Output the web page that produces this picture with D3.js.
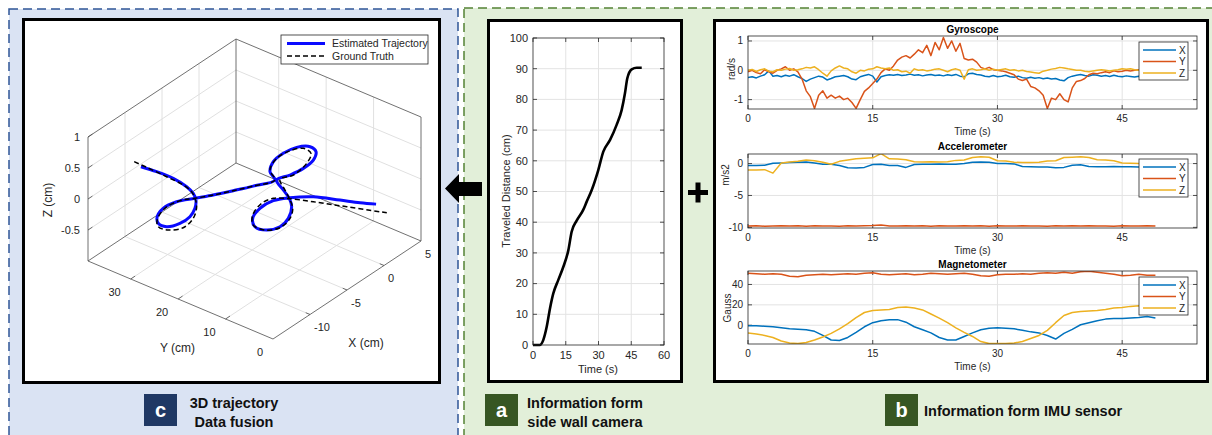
<!DOCTYPE html>
<html>
<head>
<meta charset="utf-8">
<script src="https://cdn.jsdelivr.net/npm/d3@7"></script>
<style>
  body { margin: 0; background: #fff; }
  svg { display: block; }
  text { font-family: "Liberation Sans", Arial, sans-serif; }
  text:not([fill]) { fill: #262626; }
</style>
</head>
<body>
<div id="chart"></div>
<script>
// ---------- data ----------
// 3D trajectory (cm)
const estX = [-10.0,-9.13,-8.21,-7.47,-7.11,-6.96,-7.01,-7.29,-7.84,-8.58,-9.04,-9.10,-8.77,-8.03,-7.01,-6.00,-4.90,-3.79,-2.59,-2.87,-2.68,-2.13,-1.39,-0.65,-0.32,-0.47,-1.02,-1.76,-2.50,-2.13,-1.80,-1.67,-1.85,-2.31,-3.05,-3.70,-3.82,-3.42,-2.68,-1.76,-0.47,1.00,2.11,3.00];
const estY = [35.65,33.69,31.62,29.95,29.13,28.79,28.92,29.54,30.79,32.45,33.49,33.62,32.87,31.20,28.92,26.63,24.14,21.65,18.94,19.56,19.15,17.91,16.23,14.58,13.83,14.16,15.41,17.07,18.73,17.91,17.16,16.86,17.28,18.32,19.98,21.43,21.72,20.81,19.15,17.07,14.16,10.84,8.34,6.35];
const estZ = [0.234,0.148,0.035,-0.105,-0.214,-0.323,-0.456,-0.590,-0.694,-0.744,-0.685,-0.579,-0.445,-0.344,-0.295,-0.248,-0.185,-0.118,-0.028,0.108,0.268,0.400,0.492,0.497,0.414,0.281,0.150,0.047,-0.029,-0.192,-0.329,-0.465,-0.651,-0.784,-0.832,-0.774,-0.639,-0.479,-0.361,-0.319,-0.311,-0.374,-0.424,-0.452];
const gtX = [-10.37,-9.68,-8.58,-7.66,-7.20,-7.01,-6.92,-7.11,-7.66,-8.49,-9.04,-9.10,-8.67,-7.84,-7.01,-6.00,-4.90,-3.79,-2.59,-2.87,-2.50,-1.76,-1.02,-0.60,-0.84,-1.58,-2.31,-2.04,-1.80,-1.61,-1.76,-2.31,-3.14,-3.79,-3.82,-3.33,-2.68,-1.94,-0.47,1.38,3.59];
const gtY = [36.49,34.94,32.45,30.38,29.33,28.92,28.70,29.13,30.38,32.25,33.49,33.62,32.66,30.79,28.92,26.63,24.14,21.65,18.94,19.56,18.73,17.07,15.41,14.45,14.99,16.66,18.32,17.69,17.16,16.73,17.07,18.32,20.19,21.65,21.72,20.60,19.15,17.48,14.16,10.00,5.01];
const gtZ = [0.317,0.222,0.063,-0.076,-0.187,-0.295,-0.431,-0.617,-0.765,-0.797,-0.740,-0.632,-0.446,-0.328,-0.295,-0.248,-0.185,-0.118,-0.028,0.135,0.321,0.439,0.473,0.390,0.230,0.046,-0.019,-0.193,-0.329,-0.491,-0.652,-0.799,-0.831,-0.747,-0.585,-0.399,-0.323,-0.328,-0.392,-0.484,-0.595];

// traveled distance from side wall camera
const distT = [0,3.1,4.7,6.3,7.8,9.3,11.6,13.9,16.2,17.7,20.0,23.0,24.6,26.9,29.9,32.2,35.3,38.3,40.6,42.1,43.2,45.2,47.5,49.8];
const distV = [0,0,1.6,6,12,16.8,21.2,25.5,30.9,36.9,40.5,44,46.7,50.5,57,63,66.8,71.7,76.5,81.9,86.9,89.8,90.3,90.3];

// IMU: gyroscope sampled every 0.5 s, accelerometer / magnetometer every 1 s
const gyroStep = 0.5, slowStep = 1;
const gyroX = [-0.25,-0.22,-0.26,-0.20,-0.15,-0.02,-0.20,-0.18,-0.22,-0.17,
  -0.20,-0.15,-0.22,-0.28,-0.38,-0.30,-0.25,-0.20,-0.23,-0.33,
  -0.28,-0.22,-0.20,-0.18,-0.22,-0.30,-0.32,-0.22,-0.18,-0.14,
  -0.20,-0.40,-0.22,-0.18,-0.15,-0.17,-0.14,-0.18,-0.16,-0.13,
  -0.17,-0.15,-0.19,-0.16,-0.14,-0.18,-0.16,-0.19,-0.15,-0.18,
  -0.14,-0.20,-0.22,-0.12,-0.10,-0.14,-0.16,-0.20,-0.22,-0.18,
  -0.22,-0.20,-0.17,-0.22,-0.24,-0.20,-0.25,-0.27,-0.24,-0.27,
  -0.25,-0.29,-0.26,-0.30,-0.28,-0.33,-0.36,-0.25,-0.20,-0.17,
  -0.14,-0.18,-0.20,-0.15,-0.17,-0.20,-0.18,-0.21,-0.17,-0.20,
  -0.22,-0.19,-0.21,-0.23,-0.20,-0.22,-0.19,-0.21,-0.20,-0.20];
const gyroY = [-0.05,0.00,-0.08,-0.12,0.02,-0.05,-0.10,0.00,0.05,0.12,
  0.00,0.05,-0.05,-0.30,-0.70,-0.90,-1.30,-0.85,-0.70,-0.95,
  -0.85,-0.95,-0.88,-1.00,-0.95,-1.10,-1.30,-1.00,-0.72,-0.60,
  -0.45,-0.30,-0.08,0.05,0.00,0.15,0.35,0.45,0.50,0.42,
  0.55,0.70,0.60,0.85,0.50,0.95,0.70,1.12,0.75,1.00,
  0.65,0.92,0.40,0.35,0.38,0.28,0.10,0.05,0.10,0.02,
  0.00,-0.02,-0.05,-0.10,-0.15,-0.30,-0.35,-0.30,-0.55,-0.60,
  -0.70,-0.85,-1.30,-0.95,-1.00,-0.80,-1.00,-1.08,-0.60,-0.38,
  -0.35,-0.28,-0.15,-0.10,-0.12,-0.08,-0.05,-0.08,-0.02,-0.05,
  -0.03,0.00,-0.02,0.00,0.02,-0.02,0.00,0.02,0.00,0.00];
const gyroZ = [0.00,0.03,-0.04,0.02,0.05,-0.03,-0.05,0.02,0.00,0.04,
  0.06,0.00,0.02,0.05,0.10,0.08,0.12,0.02,-0.10,-0.20,
  -0.02,0.08,0.15,0.08,0.05,-0.05,-0.10,0.00,-0.02,0.04,
  0.05,0.12,0.08,0.05,0.08,0.00,0.02,-0.05,-0.03,-0.10,
  0.05,0.00,0.02,-0.02,0.00,0.04,0.05,0.00,-0.05,0.02,
  0.05,0.00,-0.30,0.02,0.05,0.00,0.02,0.05,0.00,0.04,
  0.00,0.03,0.05,0.00,0.02,-0.02,0.00,-0.04,-0.06,-0.08,
  -0.10,-0.03,0.00,0.04,0.06,0.10,0.08,0.05,0.03,0.00,
  0.00,-0.03,-0.05,-0.02,0.00,0.02,0.00,-0.02,0.00,0.02,
  0.05,0.04,0.05,0.02,0.00,0.03,0.05,0.04,0.05,0.05];

const accX = [-0.30,-0.30,-0.25,0.05,0.10,0.15,0.20,0.25,0.10,-0.10,
  -0.10,-0.30,-0.65,-0.70,-0.60,-0.15,-0.10,-0.30,-0.30,-0.60,
  -0.15,-0.10,-0.10,-0.05,-0.10,-0.10,0.00,0.20,0.25,0.20,
  0.00,0.00,-0.05,-0.45,-0.50,-0.55,-0.55,-0.65,-0.60,-0.25,
  -0.20,-0.45,-0.50,-0.50,-0.45,-0.50,-0.50,-0.55,-0.50,-0.50];
const accY = [-9.80,-9.75,-9.82,-9.78,-9.74,-9.80,-9.76,-9.82,-9.75,-9.79,
  -9.77,-9.81,-9.74,-9.80,-9.76,-9.72,-9.62,-9.78,-9.80,-9.75,
  -9.79,-9.76,-9.81,-9.74,-9.78,-9.80,-9.75,-9.79,-9.76,-9.82,
  -9.74,-9.78,-9.80,-9.75,-9.79,-9.77,-9.81,-9.74,-9.78,-9.76,
  -9.80,-9.75,-9.79,-9.77,-9.81,-9.76,-9.78,-9.80,-9.75,-9.78];
const accZ = [-1.00,-1.00,-0.95,-1.50,0.10,0.25,0.35,0.55,0.45,0.20,
  -0.10,0.35,0.55,0.75,0.85,0.90,1.55,0.75,0.70,0.60,
  0.30,0.25,0.30,0.25,0.30,0.50,0.55,0.95,1.05,1.00,
  0.45,0.40,0.20,0.15,0.15,0.20,0.40,0.45,0.95,1.00,
  1.05,0.95,0.60,0.55,0.45,0.10,0.05,0.00,0.00,0.00];

const magX = [-0.5,-0.5,-1,-1.5,-2.5,-3.5,-4,-4.5,-6,-10,
  -14.5,-15,-12,-7,-1.5,2.5,4.5,5.5,5.5,3,
  -1.5,-4.5,-7.5,-12,-14.5,-14.5,-11,-7.5,-4.5,-3,
  -2.5,-3,-3.5,-5,-6.5,-7.5,-10,-13.5,-8,-4,
  0.5,2.5,4.5,6,6.5,6.5,7,7.5,8.5,7];
const magY = [51,50.5,50,50.5,50,48,47.5,49,49.5,50,
  49.5,50,50.5,50,51,51.5,50,49.5,50,50.5,
  49.5,50,51,50.5,50,50.5,51,50,48.5,48,
  49.5,50,50,50.5,50,51,51.5,51,52,51,
  52.5,53,52,51,50,48.5,49,50,49,49];
const magZ = [-7.5,-8.5,-10,-12,-15.5,-17.5,-18,-17,-14.5,-11.5,
  -8,-3.5,1.5,7.5,12.5,14.5,15,15.5,17.5,18,
  17,15,11,7,2.5,-2.5,-7,-11,-16,-18,
  -18,-18,-17.5,-16,-13,-10,-5,2.5,9.5,12.5,
  13.5,14,14.5,15.5,17,17.5,18.5,19,18.5,18.5];

const timeTicks = [0, 15, 30, 45];
const seriesNames = ['X', 'Y', 'Z'];
const seriesColors = ['#0072BD', '#D95319', '#EDB120'];

// ---------- canvas ----------
const W = 1212, H = 435;
const svg = d3.select('#chart').append('svg').attr('width', W).attr('height', H);

// panel backgrounds
svg.append('rect').attr('x', 9).attr('y', 9).attr('width', 449).attr('height', 450)
  .attr('fill', '#dae3f3').attr('stroke', '#2f5597').attr('stroke-width', 1.5).attr('stroke-dasharray', '9,5');
svg.append('rect').attr('x', 464).attr('y', 8).attr('width', 780).attr('height', 450)
  .attr('fill', '#e2efd9').attr('stroke', '#548235').attr('stroke-width', 1.5).attr('stroke-dasharray', '9,5');

// white boxes
[[23.5, 19.5, 416, 363], [488.5, 20.5, 193, 361], [714.5, 20.5, 493, 361]].forEach(b => {
  svg.append('rect').attr('x', b[0]).attr('y', b[1]).attr('width', b[2]).attr('height', b[3])
    .attr('fill', '#fff').attr('stroke', '#000').attr('stroke-width', 3);
});

// arrow and plus
svg.append('polygon')
  .attr('points', '445,188.5 459,174 459,182 482,182 482,196 459,196 459,203')
  .attr('fill', '#000');
svg.append('path').attr('d', 'M688,192.5H708M698,182.5V202.5').attr('stroke', '#000').attr('stroke-width', 5);

// ---------- MATLAB-like 2D axes ----------
function matlabAxes(g, x, y, xt, yt, fs) {
  const [xa, xb] = x.range(), [ya, yb] = y.range(); // ya bottom, yb top
  const gridC = '#e3e3e3';
  g.append('g').selectAll('line').data(xt.filter(t => x(t) > xa + 1 && x(t) < xb - 1)).join('line')
    .attr('x1', d => x(d)).attr('x2', d => x(d)).attr('y1', ya).attr('y2', yb)
    .attr('stroke', gridC).attr('stroke-width', 1);
  g.append('g').selectAll('line').data(yt.filter(t => y(t) < ya - 1 && y(t) > yb + 1)).join('line')
    .attr('y1', d => y(d)).attr('y2', d => y(d)).attr('x1', xa).attr('x2', xb)
    .attr('stroke', gridC).attr('stroke-width', 1);
  const tl = 4;
  const tk = g.append('g').attr('stroke', '#262626').attr('stroke-width', 0.8);
  xt.forEach(t => {
    tk.append('line').attr('x1', x(t)).attr('x2', x(t)).attr('y1', ya).attr('y2', ya - tl);
    tk.append('line').attr('x1', x(t)).attr('x2', x(t)).attr('y1', yb).attr('y2', yb + tl);
  });
  yt.forEach(t => {
    tk.append('line').attr('y1', y(t)).attr('y2', y(t)).attr('x1', xa).attr('x2', xa + tl);
    tk.append('line').attr('y1', y(t)).attr('y2', y(t)).attr('x1', xb).attr('x2', xb - tl);
  });
  g.append('g').selectAll('text').data(xt).join('text')
    .attr('x', d => x(d)).attr('y', ya + fs + 2.5).attr('text-anchor', 'middle')
    .attr('font-size', fs + 'px').text(d => d);
  g.append('g').selectAll('text').data(yt).join('text')
    .attr('x', xa - 5).attr('y', d => y(d)).attr('dy', '0.35em').attr('text-anchor', 'end')
    .attr('font-size', fs + 'px').text(d => d);
}
function frame(g, x, y) {
  const [xa, xb] = x.range(), [ya, yb] = y.range();
  g.append('rect').attr('x', xa).attr('y', yb).attr('width', xb - xa).attr('height', ya - yb)
    .attr('fill', 'none').attr('stroke', '#262626').attr('stroke-width', 0.8);
}

// ---------- panel a: traveled distance ----------
{
  const g = svg.append('g');
  const x = d3.scaleLinear().domain([0, 60]).range([533, 664]);
  const y = d3.scaleLinear().domain([0, 100]).range([345, 38]);
  matlabAxes(g, x, y, [0, 15, 30, 45, 60], d3.range(0, 101, 10), 11);
  g.append('path').datum(d3.zip(distT, distV))
    .attr('d', d3.line().x(d => x(d[0])).y(d => y(d[1])).curve(d3.curveMonotoneX))
    .attr('fill', 'none').attr('stroke', '#000').attr('stroke-width', 2.6).attr('stroke-linejoin', 'round');
  frame(g, x, y);
  g.append('text').attr('x', 598).attr('y', 373).attr('text-anchor', 'middle').attr('font-size', '11px').text('Time (s)');
  g.append('text').attr('transform', 'translate(506,191) rotate(-90)').attr('dy', '0.35em')
    .attr('text-anchor', 'middle').attr('font-size', '11px').text('Traveled Distance (cm)');
}

// ---------- panel b: IMU ----------
const tx = d3.scaleLinear().domain([0, 54]).range([748, 1197]);
const imuPanels = [
  { title: 'Gyroscope', unit: 'rad/s', data: [gyroX, gyroY, gyroZ], step: gyroStep,
    dom: [-1.32, 1.17], rng: [109, 36], ticks: [-1, 0, 1], ty: 32.5, uy: 69, ux: 731, ly: 42 },
  { title: 'Accelerometer', unit: 'm/s2', data: [accX, accY, accZ], step: slowStep,
    dom: [-10.1, 1.5], rng: [228, 154], ticks: [-10, -5, 0], ty: 149.5, uy: 175, ux: 725, ly: 159 },
  { title: 'Magnetometer', unit: 'Gauss', data: [magX, magY, magZ], step: slowStep,
    dom: [-18.4, 53.2], rng: [344, 271], ticks: [0, 20, 40], ty: 267.5, uy: 308, ux: 727, ly: 277 }
];
imuPanels.forEach((p, pi) => {
  const g = svg.append('g');
  const y = d3.scaleLinear().domain(p.dom).range(p.rng);
  matlabAxes(g, tx, y, timeTicks, p.ticks, 10);
  const cid = 'clip' + pi;
  g.append('clipPath').attr('id', cid).append('rect')
    .attr('x', 748).attr('y', p.rng[1]).attr('width', 449).attr('height', p.rng[0] - p.rng[1]);
  const line = d3.line().x((d, i) => tx(i * p.step)).y(d => y(d));
  p.data.forEach((s, si) => {
    g.append('path').datum(s).attr('d', line).attr('clip-path', `url(#${cid})`)
      .attr('fill', 'none').attr('stroke', seriesColors[si]).attr('stroke-width', 1.5)
      .attr('stroke-linejoin', 'round');
  });
  frame(g, tx, y);
  g.append('text').attr('x', 972.5).attr('y', p.ty).attr('text-anchor', 'middle')
    .attr('font-size', '10px').attr('font-weight', 'bold').attr('fill', '#000').text(p.title);
  g.append('text').attr('x', 972.5).attr('y', p.rng[0] + 26).attr('text-anchor', 'middle')
    .attr('font-size', '10px').text('Time (s)');
  g.append('text').attr('transform', `translate(${p.ux},${p.uy}) rotate(-90)`).attr('dy', '0.35em')
    .attr('text-anchor', 'middle').attr('font-size', '10px').text(p.unit);
  // legend
  const lg = g.append('g').attr('transform', `translate(1139,${p.ly})`);
  lg.append('rect').attr('width', 49).attr('height', 38).attr('fill', '#fff')
    .attr('stroke', '#262626').attr('stroke-width', 0.8);
  seriesNames.forEach((n, i) => {
    const yy = 8 + i * 11.5;
    lg.append('line').attr('x1', 4).attr('x2', 37).attr('y1', yy).attr('y2', yy)
      .attr('stroke', seriesColors[i]).attr('stroke-width', 1.6);
    lg.append('text').attr('x', 40).attr('y', yy).attr('dy', '0.35em').attr('font-size', '10px').text(n);
  });
});

// ---------- panel c: 3D trajectory ----------
{
  const g = svg.append('g');
  const origin = [273, 339];             // screen position of (X=-15, Y=0, Z=-1)
  const vX = [148, -98], vY = [-185, -78], vZ = [0, -124];
  const X3 = d3.scaleLinear().domain([-15, 5]).range([0, 1]);
  const Y3 = d3.scaleLinear().domain([0, 39]).range([0, 1]);
  const Z3 = d3.scaleLinear().domain([-1, 1]).range([0, 1]);
  const proj = p => {
    const a = X3(p[0]), b = Y3(p[1]), c = Z3(p[2]);
    return [origin[0] + a * vX[0] + b * vY[0] + c * vZ[0], origin[1] + a * vX[1] + b * vY[1] + c * vZ[1]];
  };
  const seg = (sel, p, q, stroke, w) => {
    const A = proj(p), B = proj(q);
    sel.append('line').attr('x1', A[0]).attr('y1', A[1]).attr('x2', B[0]).attr('y2', B[1])
      .attr('stroke', stroke).attr('stroke-width', w);
  };
  const xT = [-10, -5, 0, 5], yT = [0, 10, 20, 30], zT = [-0.5, 0, 0.5, 1];
  const grid = g.append('g');
  const gc = '#e0e0e0';
  // floor
  [-10, -5, 0].forEach(v => seg(grid, [v, 0, -1], [v, 39, -1], gc, 1));
  [10, 20, 30].forEach(v => seg(grid, [-15, v, -1], [5, v, -1], gc, 1));
  // back wall X=5
  [10, 20, 30].forEach(v => seg(grid, [5, v, -1], [5, v, 1], gc, 1));
  [-0.5, 0, 0.5].forEach(v => seg(grid, [5, 0, v], [5, 39, v], gc, 1));
  // back wall Y=39
  [-10, -5, 0].forEach(v => seg(grid, [v, 39, -1], [v, 39, 1], gc, 1));
  [-0.5, 0, 0.5].forEach(v => seg(grid, [-15, 39, v], [5, 39, v], gc, 1));

  const box = g.append('g');
  const bc = '#4d4d4d';
  [[[-15, 39, -1], [5, 39, -1]], [[5, 39, -1], [5, 0, -1]],
   [[-15, 39, -1], [-15, 0, -1]], [[-15, 0, -1], [5, 0, -1]],
   [[-15, 39, -1], [-15, 39, 1]], [[5, 0, -1], [5, 0, 1]], [[5, 39, -1], [5, 39, 1]],
   [[-15, 39, 1], [5, 39, 1]], [[5, 39, 1], [5, 0, 1]]].forEach(e => seg(box, e[0], e[1], bc, 0.8));
  // ticks
  zT.forEach(v => seg(box, [-15, 39, v], [-14.4, 39, v], bc, 0.8));
  yT.filter(v => v > 0).forEach(v => seg(box, [-15, v, -1], [-14.4, v, -1], bc, 0.8));
  xT.filter(v => v < 5).forEach(v => seg(box, [v, 0, -1], [v, 0.9, -1], bc, 0.8));

  // tick labels
  zT.forEach(v => {
    const p = proj([-15, 39, v]);
    g.append('text').attr('x', p[0] - 8).attr('y', p[1]).attr('dy', '0.35em').attr('text-anchor', 'end')
      .attr('font-size', '11px').text(v);
  });
  yT.forEach(v => {
    const p = proj([-15, v, -1]);
    g.append('text').attr('x', p[0] - 10).attr('y', p[1] + 13).attr('dy', '0.35em').attr('text-anchor', 'end')
      .attr('font-size', '11px').text(v);
  });
  xT.forEach(v => {
    const p = proj([v, 0, -1]);
    g.append('text').attr('x', p[0] + 4).attr('y', p[1] + 13).attr('dy', '0.35em').attr('text-anchor', 'start')
      .attr('font-size', '11px').text(v);
  });
  const yl = proj([-15, 19.5, -1]), xl = proj([-5, 0, -1]);
  g.append('text').attr('x', yl[0] - 3).attr('y', yl[1] + 48).attr('dy', '0.35em').attr('text-anchor', 'middle')
    .attr('font-size', '12px').text('Y (cm)');
  g.append('text').attr('x', xl[0] + 19).attr('y', xl[1] + 53).attr('dy', '0.35em').attr('text-anchor', 'middle')
    .attr('font-size', '12px').text('X (cm)');
  g.append('text').attr('transform', 'translate(48,200) rotate(-90)').attr('dy', '0.35em')
    .attr('text-anchor', 'middle').attr('font-size', '12px').text('Z (cm)');

  const line3 = d3.line().x(d => proj(d)[0]).y(d => proj(d)[1]).curve(d3.curveCatmullRom.alpha(0.5));
  g.append('path').datum(d3.zip(estX, estY, estZ)).attr('d', line3)
    .attr('fill', 'none').attr('stroke', '#0a0aff').attr('stroke-width', 3).attr('stroke-linejoin', 'round');
  g.append('path').datum(d3.zip(gtX, gtY, gtZ)).attr('d', line3)
    .attr('fill', 'none').attr('stroke', '#000').attr('stroke-width', 1.5).attr('stroke-dasharray', '5,3');

  // legend
  const lg = g.append('g').attr('transform', 'translate(281,35)');
  lg.append('rect').attr('width', 147).attr('height', 29).attr('fill', '#fff')
    .attr('stroke', '#262626').attr('stroke-width', 0.8);
  lg.append('line').attr('x1', 6).attr('x2', 44).attr('y1', 8.5).attr('y2', 8.5)
    .attr('stroke', '#0a0aff').attr('stroke-width', 3);
  lg.append('line').attr('x1', 6).attr('x2', 44).attr('y1', 21).attr('y2', 21)
    .attr('stroke', '#000').attr('stroke-width', 1.5).attr('stroke-dasharray', '5,3');
  lg.append('text').attr('x', 51).attr('y', 8.5).attr('dy', '0.35em').attr('font-family', 'Lato')
    .attr('font-size', '10.5px').text('Estimated Trajectory');
  lg.append('text').attr('x', 51).attr('y', 21).attr('dy', '0.35em').attr('font-family', 'Lato')
    .attr('font-size', '10.5px').text('Ground Truth');
}

// ---------- panel captions ----------
const captions = [
  { badge: 'c', bx: 144, fill: '#1f3864', lines: ['3D trajectory', 'Data fusion'], tx: 234, anchor: 'middle' },
  { badge: 'a', bx: 485, fill: '#375623', lines: ['Information form', 'side wall camera'], tx: 585, anchor: 'middle' },
  { badge: 'b', bx: 885, fill: '#375623', lines: ['Information form IMU sensor'], tx: 924, anchor: 'start' }
];
captions.forEach(c => {
  svg.append('rect').attr('x', c.bx).attr('y', 394).attr('width', 33).attr('height', 32).attr('fill', c.fill);
  svg.append('text').attr('x', c.bx + 16.5).attr('y', 410).attr('dy', '0.35em').attr('text-anchor', 'middle')
    .attr('font-family', 'Lato').attr('font-weight', 'bold').attr('font-size', '20px').attr('fill', '#fff').text(c.badge);
  const ys = c.lines.length === 1 ? [411] : [402.5, 421.5];
  c.lines.forEach((t, i) => {
    svg.append('text').attr('x', c.tx).attr('y', ys[i]).attr('dy', '0.35em').attr('text-anchor', c.anchor)
      .attr('font-family', 'Lato').attr('font-weight', 'bold').attr('font-size', '14.5px').attr('fill', '#111').text(t);
  });
});
</script>
</body>
</html>
